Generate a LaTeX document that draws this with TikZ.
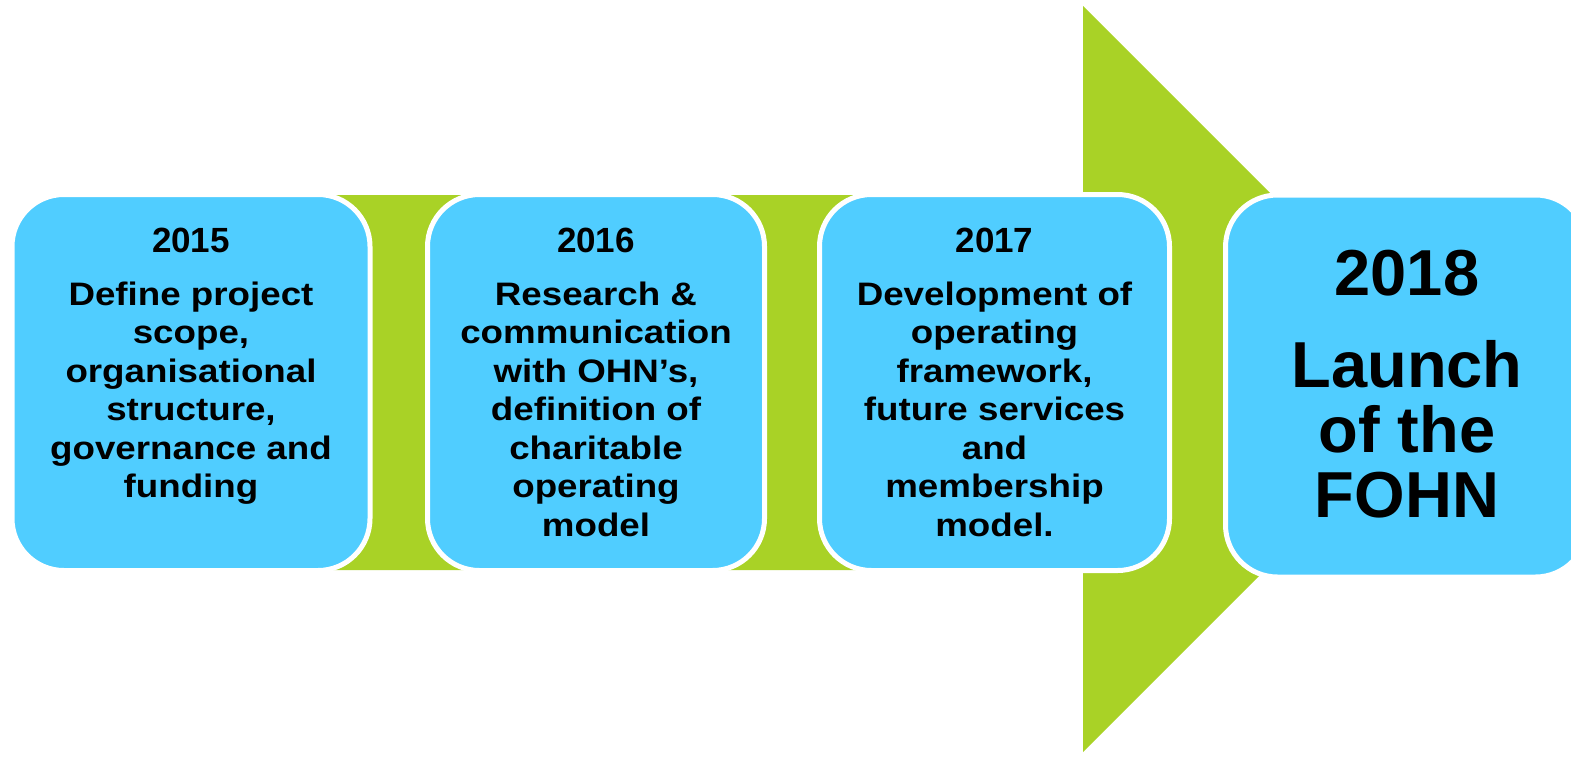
\documentclass[tikz,border=0pt]{standalone}
\usepackage{fontspec}
\setmainfont{Liberation Sans}
\newfontfamily\stagefont{Liberation Sans}[FakeStretch=1.13]
\usetikzlibrary{calc}
\definecolor{stageblue}{RGB}{80,205,255}
\definecolor{arrowgreen}{RGB}{169,210,38}
\tikzset{
	stage/.style={rectangle, rounded corners=52pt, fill=stageblue, draw=white, line width=5pt, inner sep=0pt},
	yeartext/.style={anchor=base, inner sep=0pt, font=\fontsize{35}{42}\selectfont\bfseries},
	bodytext/.style={anchor=base, inner sep=0pt, align=center, font=\stagefont\fontsize{32.5}{38.5}\selectfont\bfseries}
}
\begin{document}
\begin{tikzpicture}[x=1pt,y=-1pt]
		\useasboundingbox (0,0) rectangle (1571,756);
		\clip (0,0) rectangle (1571,756);

		\fill[arrowgreen] (100,195) -- (1083,195) -- (1083,6) -- (1456,379) -- (1083,752) -- (1083,570) -- (100,570) -- cycle;

		\foreach \cx/\w/\by/\yr/\body [count=\i] in {
			191/358/497.5/2015/{Define project\\scope,\\organisational\\structure,\\governance and\\funding},
			596/337/536/2016/{Research \&\\communication\\with OHN’s,\\definition of\\charitable\\operating\\model},
			994.5/350/536/2017/{Development of\\operating\\framework,\\future services\\and\\membership\\model.}}
		{
			\node[stage, minimum width=\w pt, minimum height=376pt] (box\i) at (\cx,382.5) {};
			\node[yeartext] (year\i) at (\cx,252) {\yr};
			\node[bodytext] (text\i) at (\cx,\by) {\body};
		}

		\node[stage, minimum width=362pt, minimum height=382pt] (box4) at (1406.5,386) {};
		\node[yeartext, font=\fontsize{65}{65}\selectfont\bfseries] (year4) at (1407,295) {2018};
		\node[bodytext, font=\fontsize{65}{65}\selectfont\bfseries] (text4) at (1407,517) {Launch\\of the\\FOHN};

	\end{tikzpicture}
\end{document}
